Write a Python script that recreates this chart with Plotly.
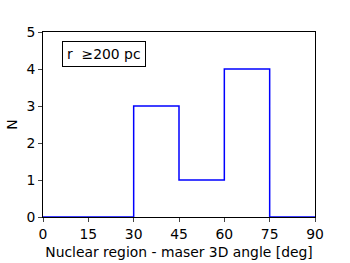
import plotly.graph_objects as go

bin_edges = [0, 15, 30, 45, 60, 75, 90]
counts = [0, 0, 3, 1, 4, 0]
x_ticks = [0, 15, 30, 45, 60, 75, 90]
y_ticks = [0, 1, 2, 3, 4, 5]

xs = bin_edges
ys = counts + [counts[-1]]

fig = go.Figure()
fig.add_trace(go.Scatter(x=xs, y=ys, mode="lines", line=dict(color="blue", width=1.5, shape="hv"),
                         showlegend=False, hoverinfo="skip"))

font = dict(family="DejaVu Sans", size=13.9, color="black")
fig.update_layout(
    width=350, height=263,
    margin=dict(l=43, r=35, t=32, b=46, autoexpand=False),
    paper_bgcolor="white", plot_bgcolor="white",
    font=font,
    xaxis=dict(range=[0, 90], tickvals=x_ticks, ticks="outside", ticklen=4, tickwidth=1,
               showline=True, linecolor="black", linewidth=1, mirror=True, showgrid=False, zeroline=False,
               title=dict(text="Nuclear region - maser 3D angle [deg]", font=font, standoff=6),
               tickfont=font, automargin=False),
    yaxis=dict(range=[0, 5], tickvals=y_ticks, ticks="outside", ticklen=4, tickwidth=1,
               showline=True, linecolor="black", linewidth=1, mirror=True, showgrid=False, zeroline=False,
               title=dict(text="N", font=font, standoff=5),
               tickfont=font, automargin=False),
    annotations=[dict(x=0.07, y=0.95, xref="paper", yref="paper", xanchor="left", yanchor="top",
                      text="r  ≥200 pc", showarrow=False, font=font,
                      bordercolor="black", borderwidth=1, borderpad=4, bgcolor="white")],
)
fig.write_html("out.html", config={"displayModeBar": False},
               post_script="document.body.style.margin='0';")
